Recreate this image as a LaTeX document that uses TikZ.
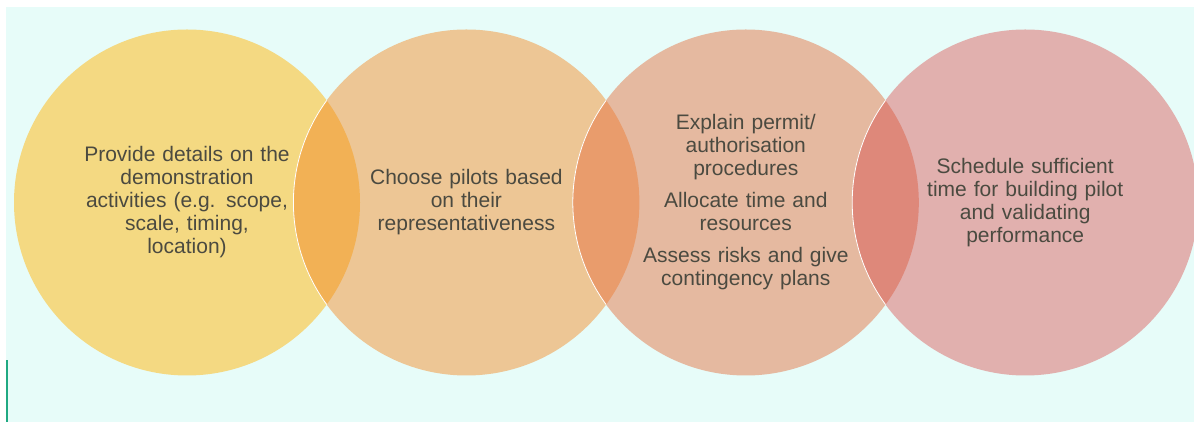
\documentclass[tikz,border=0pt]{standalone}
\usepackage{fontspec}
\setmainfont{Liberation Sans}
\usetikzlibrary{positioning}

\definecolor{bgcyan}{HTML}{E7FCF9}
\definecolor{edgeteal}{HTML}{1FA982}
\definecolor{txtgray}{HTML}{4B4A40}
\definecolor{cyellow}{HTML}{F4D982}
\definecolor{ctan}{HTML}{EDC695}
\definecolor{cpeach}{HTML}{E5B9A0}
\definecolor{cpink}{HTML}{E1B0AE}
\definecolor{lorange}{HTML}{F2B155}
\definecolor{lcoral}{HTML}{E99C6C}
\definecolor{lred}{HTML}{DE887A}

\begin{document}
\begin{tikzpicture}[x=1pt, y=1pt,
  bubble/.style={circle, minimum size=346pt, inner sep=0pt},
  blurb/.style={text=txtgray, align=center, text width=250pt,
    font=\fontsize{21}{23}\selectfont}]
\useasboundingbox (0,0) rectangle (1194,422);
\fill[white] (0,0) rectangle (1194,422);
\fill[bgcyan] (6,0) rectangle (1194,415);
\draw[edgeteal, line width=1.5pt] (6.8,0) -- (6.8,62);

% the four circles
\node[bubble, fill=cyellow] (p1) at (187,219.5) {};
\node[bubble, fill=ctan, right=-67pt of p1] (p2) {};
\node[bubble, fill=cpeach, right=-67pt of p2] (p3) {};
\node[bubble, fill=cpink, right=-67pt of p3] (p4) {};

% overlaps
\begin{scope}
\clip (p1.center) circle (173);
\fill[lorange] (p2.center) circle (173);
\draw[white, line width=0.8pt] (p2.center) circle (173);
\end{scope}
\begin{scope}
\clip (p2.center) circle (173);
\fill[lcoral] (p3.center) circle (173);
\draw[white, line width=0.8pt] (p3.center) circle (173);
\end{scope}
\begin{scope}
\clip (p3.center) circle (173);
\fill[lred] (p4.center) circle (173);
\draw[white, line width=0.8pt] (p4.center) circle (173);
\end{scope}

% texts
\node[blurb] (t1) at (p1) {Provide details on the\\ demonstration\\ activities (e.g. scope,\\ scale, timing,\\ location)};
\node[blurb] (t2) at (p2) {Choose pilots based\\ on their\\ representativeness};
\node[blurb] (t3) at (p3) {Explain permit/\\ authorisation\\ procedures\\[9pt] Allocate time and\\ resources\\[9pt] Assess risks and give\\ contingency plans};
\node[blurb] (t4) at (p4) {Schedule sufficient\\ time for building pilot\\ and validating\\ performance};
\end{tikzpicture}
\end{document}
